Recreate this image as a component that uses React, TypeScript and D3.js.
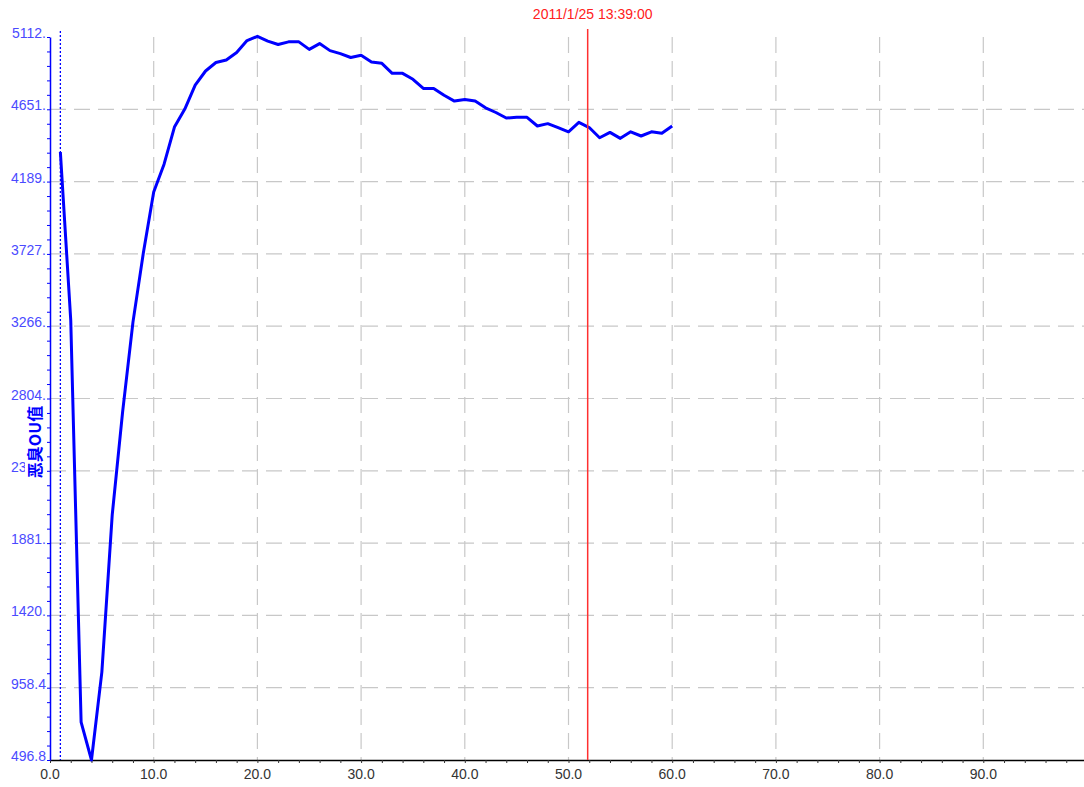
import { useEffect, useRef } from 'react'

import * as d3 from 'd3'

// time index (minutes) and odour values
const xValues = [
  1, 2, 3, 4, 5, 6, 7, 8, 9, 10, 11, 12, 13, 14, 15, 16, 17, 18, 19, 20, 21, 22, 23, 24, 25, 26, 27, 28, 29, 30,
  31, 32, 33, 34, 35, 36, 37, 38, 39, 40, 41, 42, 43, 44, 45, 46, 47, 48, 49, 50, 51, 52, 53, 54, 55, 56, 57, 58,
  59, 60,
]
const ouValues = [
  4378, 3305, 739, 496.8, 1058, 2061, 2718, 3292, 3733, 4122, 4300, 4537, 4652, 4805, 4895, 4949, 4965, 5013,
  5089, 5116, 5086, 5064, 5081, 5081, 5033, 5070, 5025, 5006, 4981, 4995, 4952, 4944, 4880, 4880, 4842, 4784,
  4784, 4740, 4703, 4713, 4703, 4660, 4630, 4595, 4599, 4599, 4544, 4559, 4534, 4507, 4567, 4534, 4469, 4503,
  4465, 4507, 4480, 4507, 4497, 4544,
]

const yTickValues = [496.8, 958.3, 1420, 1881.3, 2342.9, 2804.4, 3265.9, 3727.4, 4189, 4650.5, 5112]
const yTickLabels = ['496.8', '958.4', '1420.', '1881.', '2343.', '2804.', '3266.', '3727.', '4189.', '4651.', '5112.']
const xTickValues = [0, 10, 20, 30, 40, 50, 60, 70, 80, 90]
const yTitle = '恶臭OU值'
const cursorX = 51.85
const cursorLabel = '2011/1/25 13:39:00'
const startMarkerX = 1

const W = 1084
const H = 787
const margin = { top: 37, right: -3, bottom: 27, left: 50 }

export default function App() {
  const svgRef = useRef<SVGSVGElement>(null)

  useEffect(() => {
    if (!svgRef.current) return
    const svg = d3.select(svgRef.current)
    svg.selectAll('*').remove()

    const x = d3.scaleLinear().domain([0, 100]).range([margin.left, W - margin.right])
    const y = d3.scaleLinear().domain([496.8, 5112]).range([H - margin.bottom, margin.top])
    const bottom = H - margin.bottom

    const font = 'Arial, "Liberation Sans", sans-serif'

    // grid
    svg
      .append('g')
      .selectAll('line')
      .data(xTickValues.filter((d) => d > 0))
      .join('line')
      .attr('x1', (d) => x(d))
      .attr('x2', (d) => x(d))
      .attr('y1', margin.top)
      .attr('y2', bottom)
      .attr('stroke', '#c8c8c8')
      .attr('stroke-width', 1.2)
      .attr('stroke-dasharray', '16,8')

    svg
      .append('g')
      .selectAll('line')
      .data(yTickValues.slice(1, -1))
      .join('line')
      .attr('x1', margin.left)
      .attr('x2', W)
      .attr('y1', (d) => y(d))
      .attr('y2', (d) => y(d))
      .attr('stroke', '#c8c8c8')
      .attr('stroke-width', 1.2)
      .attr('stroke-dasharray', '16,8')

    // x axis
    const xAxis = svg
      .append('g')
      .attr('transform', `translate(0,${bottom})`)
      .call(
        d3
          .axisBottom(x)
          .tickValues(d3.range(0, 101, 2))
          .tickSize(3)
          .tickSizeOuter(0)
          .tickFormat(() => ''),
      )
    xAxis.select('.domain').attr('stroke', '#000').attr('stroke-width', 1.5)
    xAxis.selectAll('.tick line').attr('stroke', '#333')

    svg
      .append('g')
      .selectAll('text')
      .data(xTickValues)
      .join('text')
      .attr('x', (d) => x(d))
      .attr('y', bottom + 19)
      .attr('text-anchor', 'middle')
      .attr('font-family', font)
      .attr('font-size', 14)
      .attr('fill', '#333')
      .text((d) => d.toFixed(1))

    // y axis
    const minorY: number[] = []
    for (let i = 0; i < yTickValues.length - 1; i++) {
      const step = (yTickValues[i + 1] - yTickValues[i]) / 5
      for (let k = 0; k < 5; k++) minorY.push(yTickValues[i] + k * step)
    }
    minorY.push(5112)
    const yAxis = svg
      .append('g')
      .attr('transform', `translate(${margin.left},0)`)
      .call(d3.axisLeft(y).tickValues(minorY).tickSize(3).tickSizeOuter(0).tickFormat(() => ''))
    yAxis.select('.domain').attr('stroke', '#0000ff').attr('stroke-width', 1.5)
    yAxis.selectAll('.tick line').attr('stroke', '#0000ff')

    svg
      .append('g')
      .selectAll('text')
      .data(yTickValues)
      .join('text')
      .attr('x', margin.left - 4)
      .attr('y', (d) => y(d) + 1)
      .attr('text-anchor', 'end')
      .attr('font-family', font)
      .attr('font-size', 14)
      .attr('fill', '#4a4aff')
      .text((_, i) => yTickLabels[i])

    // y title, on a white box that hides part of a tick label
    svg.append('rect').attr('x', 25).attr('y', 403).attr('width', 21).attr('height', 79).attr('fill', '#fff')
    svg
      .append('text')
      .attr('transform', `translate(41,442) rotate(-90)`)
      .attr('text-anchor', 'middle')
      .attr('font-family', '"Noto Sans CJK SC", sans-serif')
      .attr('font-weight', 'bold')
      .attr('font-size', 16)
      .attr('fill', '#0000ff')
      .text(yTitle)

    // start marker line
    svg
      .append('line')
      .attr('x1', x(startMarkerX))
      .attr('x2', x(startMarkerX))
      .attr('y1', 31)
      .attr('y2', bottom)
      .attr('stroke', '#0000ff')
      .attr('stroke-width', 1.3)
      .attr('stroke-dasharray', '2,2')

    // data line
    const line = d3
      .line<number>()
      .x((_, i) => x(xValues[i]))
      .y((d) => y(d))
    svg
      .append('path')
      .datum(ouValues)
      .attr('fill', 'none')
      .attr('stroke', '#0000ff')
      .attr('stroke-width', 3)
      .attr('stroke-linejoin', 'round')
      .attr('d', line)

    // cursor
    svg
      .append('line')
      .attr('x1', x(cursorX))
      .attr('x2', x(cursorX))
      .attr('y1', 29)
      .attr('y2', bottom)
      .attr('stroke', '#ff3030')
      .attr('stroke-width', 1.5)
    svg
      .append('text')
      .attr('x', x(cursorX) + 5)
      .attr('y', 19)
      .attr('text-anchor', 'middle')
      .attr('font-family', font)
      .attr('font-size', 14)
      .attr('fill', '#ff2020')
      .text(cursorLabel)
  }, [])

  return (
    <svg
      ref={svgRef}
      width={W}
      height={H}
      style={{ position: 'absolute', left: 0, top: 0, background: '#fff' }}
    />
  )
}
